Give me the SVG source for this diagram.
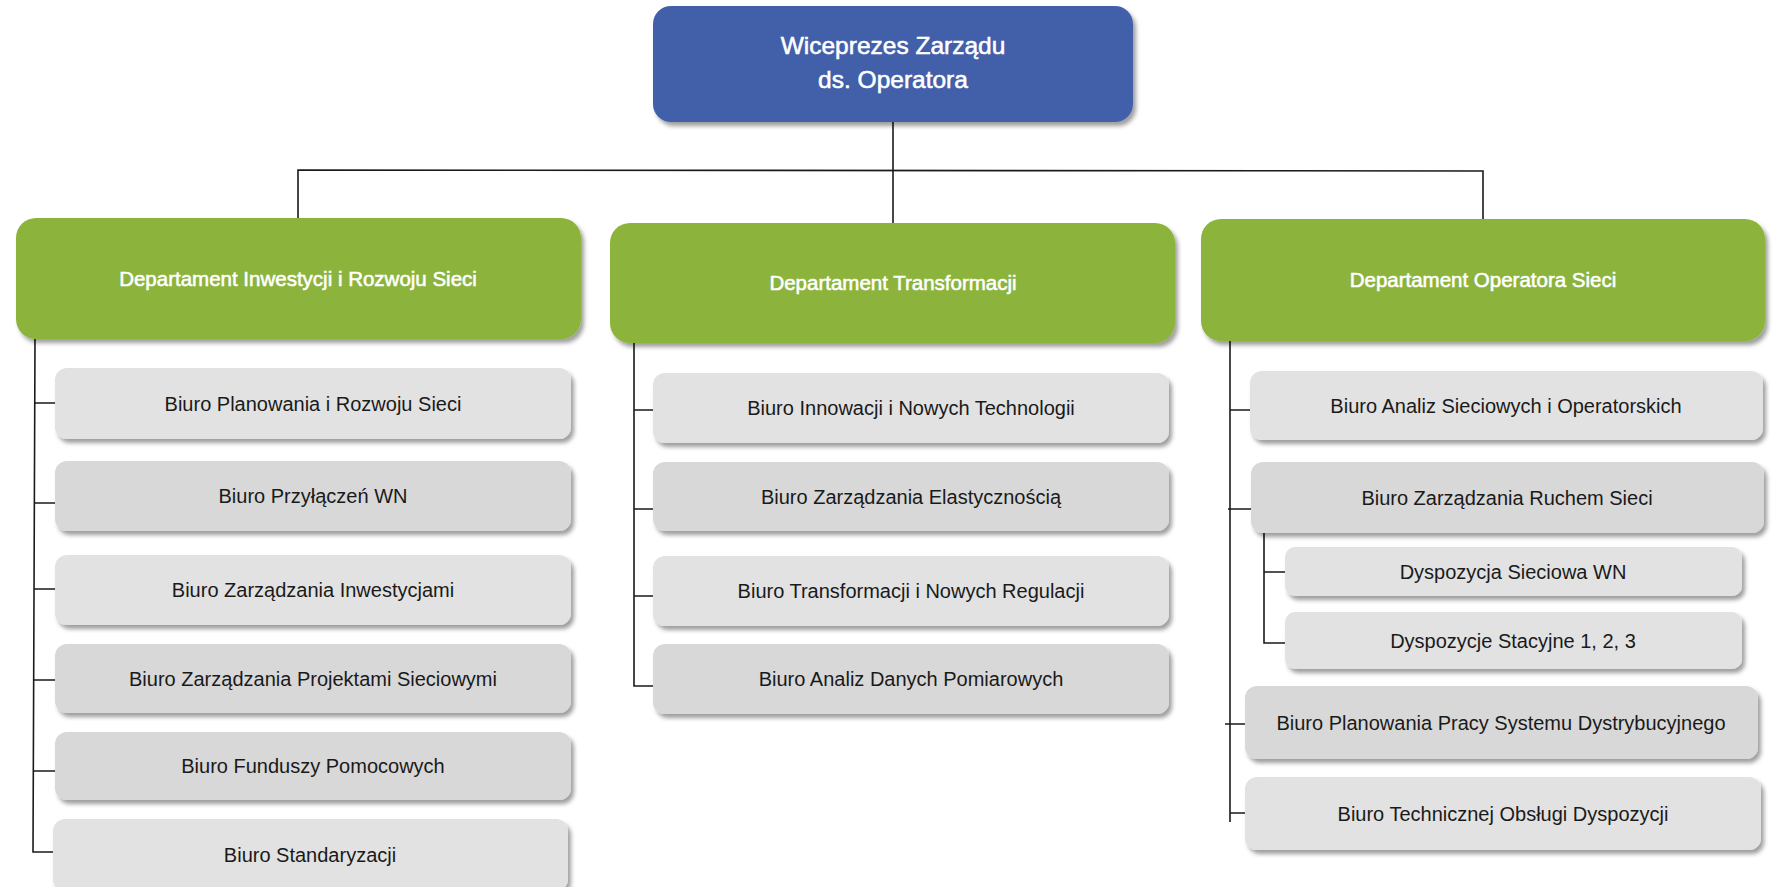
<svg xmlns="http://www.w3.org/2000/svg" width="1772" height="887" viewBox="0 0 1772 887">
<style>
.top{fill:#4361A9}
.dep{fill:#8CB43C}
.lt{fill:#E2E2E2}
.dk{fill:#D8D8D8}
.tw{font-family:"Liberation Sans",Arial,sans-serif;font-weight:normal;fill:#FFFFFF;stroke:#FFFFFF;stroke-width:0.55;text-anchor:middle}
.tg{font-family:"Liberation Sans",Arial,sans-serif;font-size:20px;fill:#1A1A1A;text-anchor:middle}
.ln{stroke:#1A1A1A;stroke-width:1.6;fill:none}
</style>
<defs>
<filter id="sh" x="-5%" y="-20%" width="115%" height="150%">
<feDropShadow dx="3" dy="4" stdDeviation="2.2" flood-color="#000000" flood-opacity="0.38"/>
</filter>
</defs>
<rect width="1772" height="887" fill="#FFFFFF"/>

<g id="connectors">
<path class="ln" d="M893,122 V223"/>
<path class="ln" d="M298,218 V170 L1483,171 V219"/>
<path class="ln" d="M35,339 L33,852 H53"/>
<path class="ln" d="M34.4,403 H55 M34.2,503 H55 M34,589 H55 M33.7,680 H55 M33.5,771 H55"/>
<path class="ln" d="M634,343 V686 H653"/>
<path class="ln" d="M634,410 H653 M634,509 H653 M634,596 H653"/>
<path class="ln" d="M1230,341 V822"/>
<path class="ln" d="M1230,410 H1250 M1228,509 H1251 M1225,724 H1245 M1230,813 H1245"/>
<path class="ln" d="M1264,533 V643 H1285 M1264,572 H1285"/>
</g>

<g id="n-wiceprezes">
<rect class="top" x="653" y="6" width="480" height="116" rx="18" filter="url(#sh)"/>
<text class="tw" x="893" y="54" font-size="24.5">Wiceprezes Zarządu</text>
<text class="tw" x="893" y="88" font-size="24.5">ds. Operatora</text>
</g>

<g id="n-dep-inwestycji">
<rect class="dep" x="16" y="218" width="565" height="121" rx="20" filter="url(#sh)"/>
<text class="tw" x="298" y="286" font-size="20.5">Departament Inwestycji i Rozwoju Sieci</text>
</g>
<g id="n-dep-transformacji">
<rect class="dep" x="610" y="223" width="565" height="120" rx="20" filter="url(#sh)"/>
<text class="tw" x="893" y="290" font-size="20.5">Departament Transformacji</text>
</g>
<g id="n-dep-operatora">
<rect class="dep" x="1201" y="219" width="564" height="122" rx="20" filter="url(#sh)"/>
<text class="tw" x="1483" y="287" font-size="20.5">Departament Operatora Sieci</text>
</g>

<g id="n-l1"><rect class="lt" x="55" y="368" width="516" height="71" rx="12" filter="url(#sh)"/><text class="tg" x="313" y="411">Biuro Planowania i Rozwoju Sieci</text></g>
<g id="n-l2"><rect class="dk" x="55" y="461" width="516" height="70" rx="12" filter="url(#sh)"/><text class="tg" x="313" y="503">Biuro Przyłączeń WN</text></g>
<g id="n-l3"><rect class="lt" x="55" y="555" width="516" height="70" rx="12" filter="url(#sh)"/><text class="tg" x="313" y="597">Biuro Zarządzania Inwestycjami</text></g>
<g id="n-l4"><rect class="dk" x="55" y="644" width="516" height="69" rx="12" filter="url(#sh)"/><text class="tg" x="313" y="686">Biuro Zarządzania Projektami Sieciowymi</text></g>
<g id="n-l5"><rect class="dk" x="55" y="732" width="516" height="68" rx="12" filter="url(#sh)"/><text class="tg" x="313" y="773">Biuro Funduszy Pomocowych</text></g>
<g id="n-l6"><rect class="lt" x="53" y="819" width="515" height="72" rx="12" filter="url(#sh)"/><text class="tg" x="310" y="862">Biuro Standaryzacji</text></g>

<g id="n-m1"><rect class="lt" x="653" y="373" width="516" height="70" rx="12" filter="url(#sh)"/><text class="tg" x="911" y="415">Biuro Innowacji i Nowych Technologii</text></g>
<g id="n-m2"><rect class="dk" x="653" y="462" width="516" height="69" rx="12" filter="url(#sh)"/><text class="tg" x="911" y="504">Biuro Zarządzania Elastycznością</text></g>
<g id="n-m3"><rect class="lt" x="653" y="556" width="516" height="70" rx="12" filter="url(#sh)"/><text class="tg" x="911" y="598">Biuro Transformacji i Nowych Regulacji</text></g>
<g id="n-m4"><rect class="dk" x="653" y="644" width="516" height="70" rx="12" filter="url(#sh)"/><text class="tg" x="911" y="686">Biuro Analiz Danych Pomiarowych</text></g>

<g id="n-r1"><rect class="lt" x="1250" y="371" width="513" height="69" rx="12" filter="url(#sh)"/><text class="tg" x="1506" y="413">Biuro Analiz Sieciowych i Operatorskich</text></g>
<g id="n-r2"><rect class="dk" x="1251" y="462" width="513" height="71" rx="12" filter="url(#sh)"/><text class="tg" x="1507" y="505">Biuro Zarządzania Ruchem Sieci</text></g>
<g id="n-r2a"><rect class="lt" x="1285" y="547" width="457" height="49" rx="10" filter="url(#sh)"/><text class="tg" x="1513" y="579">Dyspozycja Sieciowa WN</text></g>
<g id="n-r2b"><rect class="lt" x="1285" y="612" width="457" height="57" rx="10" filter="url(#sh)"/><text class="tg" x="1513" y="648">Dyspozycje Stacyjne 1, 2, 3</text></g>
<g id="n-r3"><rect class="dk" x="1245" y="686" width="513" height="73" rx="12" filter="url(#sh)"/><text class="tg" x="1501" y="730">Biuro Planowania Pracy Systemu Dystrybucyjnego</text></g>
<g id="n-r4"><rect class="lt" x="1245" y="777" width="516" height="73" rx="12" filter="url(#sh)"/><text class="tg" x="1503" y="821">Biuro Technicznej Obsługi Dyspozycji</text></g>
</svg>
